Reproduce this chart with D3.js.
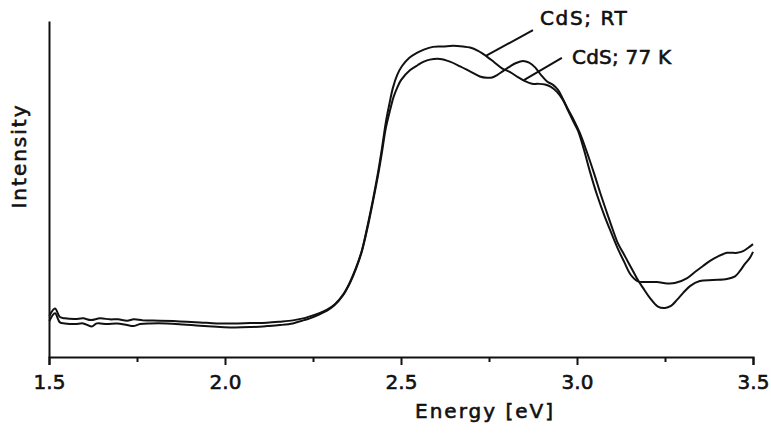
<!DOCTYPE html>
<html>
<head>
<meta charset="utf-8">
<script src="https://cdn.jsdelivr.net/npm/d3@7"></script>
<style>
  body { margin: 0; background: #fff; }
  svg text { font-family: "DejaVu Sans", sans-serif; fill: #111; stroke: #111; stroke-width: 0.6px; }
</style>
</head>
<body>
<svg id="chart" width="771" height="435"></svg>
<script>
// energy in eV, intensity in arbitrary units (0 = axis, 100 = top of y axis)
var rtEnergy = [1.501,1.517,1.531,1.545,1.574,1.597,1.619,1.645,1.673,1.696,1.722,1.741,1.767,1.815,1.872,1.929,1.977,2.023,2.071,2.119,
  2.156,2.193,2.222,2.241,2.264,2.290,2.313,2.335,2.355,2.372,2.389,2.406,2.420,2.435,2.446,2.457,2.467,2.477,2.489,2.503,
  2.523,2.545,2.565,2.591,2.619,2.648,2.676,2.696,2.719,2.744,2.764,2.787,2.810,2.832,2.852,2.872,2.889,2.909,2.926,2.943,
  2.960,2.974,2.989,3.003,3.020,3.037,3.057,3.077,3.094,3.114,3.134,3.153,3.173,3.193,3.227,3.256,3.278,3.313,3.335,3.358,
  3.378,3.398,3.426,3.455,3.472,3.489,3.500];
var rtIntensity = [12.2,14.4,11.9,11.5,11.3,11.5,11.0,11.5,11.2,11.2,10.8,11.2,10.9,10.8,10.6,10.3,10.0,10.0,10.1,10.2,
  10.5,10.9,11.5,12.1,12.9,14.1,15.8,18.5,22.3,26.5,31.8,39.6,46.7,55.1,62.2,69.9,75.3,80.1,83.9,86.6,
  89.0,90.5,91.5,92.3,92.4,92.6,92.4,92.1,91.1,89.4,87.8,85.9,84.8,83.3,82.1,81.3,81.3,81.1,80.4,78.9,
  76.5,73.5,70.2,67.3,61.6,55.1,48.2,42.3,37.8,32.7,28.3,24.4,22.5,22.3,22.3,21.9,22.0,23.5,25.3,27.1,
  28.6,29.8,31.0,31.0,31.5,32.7,33.6];

var lowEnergy = [1.501,1.517,1.531,1.545,1.574,1.597,1.621,1.636,1.665,1.693,1.722,1.739,1.759,1.787,1.835,1.881,1.929,1.977,2.023,2.071,
  2.119,2.156,2.193,2.222,2.241,2.264,2.290,2.310,2.335,2.355,2.372,2.389,2.406,2.420,2.435,2.446,2.457,2.469,2.479,2.489,
  2.500,2.526,2.548,2.565,2.582,2.611,2.639,2.668,2.696,2.724,2.744,2.759,2.773,2.790,2.810,2.827,2.847,2.864,2.881,2.898,
  2.915,2.932,2.946,2.960,2.974,2.991,3.008,3.028,3.048,3.068,3.088,3.102,3.116,3.131,3.145,3.159,3.173,3.188,3.207,3.230,
  3.250,3.267,3.284,3.301,3.321,3.349,3.386,3.426,3.449,3.463,3.477,3.491,3.500];
var lowIntensity = [10.7,13.0,10.3,10.0,9.8,10.0,9.1,10.0,9.8,10.0,9.5,9.2,9.8,10.0,10.0,9.7,9.3,9.0,8.8,8.9,
  9.2,9.5,10.0,10.9,11.5,12.5,13.8,15.3,18.3,22.0,26.2,31.5,39.0,46.1,54.2,61.0,68.2,73.5,77.4,80.1,
  82.4,85.4,86.9,87.9,88.5,88.7,87.9,86.5,85.0,83.5,83.1,83.2,83.9,85.1,86.5,87.5,88.1,87.6,86.2,83.9,
  82.0,81.0,79.5,76.8,73.8,70.5,66.7,61.0,54.8,48.2,42.0,37.8,33.9,31.0,28.3,25.6,22.9,20.5,17.6,15.0,
  14.6,15.2,17.0,19.0,21.1,22.6,22.9,23.2,24.0,25.6,27.7,29.5,31.3];

var majorTicks = [1.5, 2.0, 2.5, 3.0, 3.5];
var minorTicks = [1.75, 2.25, 2.75, 3.25];

// curve labels: text anchor point and the end points of the leader line
var labelNames = ["CdS; RT", "CdS; 77 K"];
var labelAt = [[2.895, 98.8], [2.986, 87.2]];
var leaderFrom = [[2.875, 97.3], [2.957, 89.0]];
var leaderTo = [[2.741, 89.6], [2.849, 82.4]];

var svg = d3.select("#chart");

var xScale = d3.scaleLinear().domain([1.5, 3.5]).range([49, 753]);
var yScale = d3.scaleLinear().domain([0, 100]).range([357, 21]);

var rtData = rtEnergy.map(function(e, i) { return {e: e, v: rtIntensity[i]}; });
var lowData = lowEnergy.map(function(e, i) { return {e: e, v: lowIntensity[i]}; });

var line = d3.line()
  .x(function(d) { return xScale(d.e); })
  .y(function(d) { return yScale(d.v); })
  .curve(d3.curveCatmullRom.alpha(0.5));

[rtData, lowData].forEach(function(data) {
  svg.append("path")
    .datum(data)
    .attr("d", line)
    .style("fill", "none")
    .style("stroke", "#111")
    .style("stroke-width", 2)
    .style("stroke-linejoin", "round");
});

// x axis: major ticks with labels, minor ticks without
svg.append("g")
  .attr("transform", "translate(0,357)")
  .call(d3.axisBottom(xScale).tickValues(majorTicks).tickSize(8).tickPadding(10).tickFormat(d3.format(".1f")))
  .call(function(g) {
    g.select(".domain").attr("stroke", "#111").attr("stroke-width", 2);
    g.selectAll(".tick line").attr("stroke", "#111").attr("stroke-width", 2);
    g.selectAll(".tick text").attr("font-size", 20).attr("font-family", null).attr("fill", "#111");
  });

svg.append("g")
  .attr("transform", "translate(0,357)")
  .call(d3.axisBottom(xScale).tickValues(minorTicks).tickSize(5).tickFormat(""))
  .call(function(g) {
    g.select(".domain").remove();
    g.selectAll(".tick line").attr("stroke", "#111").attr("stroke-width", 2);
  });

// y axis is a bare line
svg.append("g")
  .attr("transform", "translate(49,0)")
  .call(d3.axisLeft(yScale).tickValues([]).tickSizeOuter(0))
  .call(function(g) {
    g.select(".domain").attr("stroke", "#111").attr("stroke-width", 2);
  });

svg.append("text")
  .attr("x", 485)
  .attr("y", 418)
  .attr("text-anchor", "middle")
  .style("font-size", "20px")
  .style("letter-spacing", "2px")
  .text("Energy [eV]");

svg.append("text")
  .attr("transform", "translate(26,156)rotate(-90)")
  .attr("text-anchor", "middle")
  .style("font-size", "20px")
  .style("letter-spacing", "2px")
  .text("Intensity");

labelNames.forEach(function(name, i) {
  svg.append("line")
    .attr("x1", xScale(leaderFrom[i][0]))
    .attr("y1", yScale(leaderFrom[i][1]))
    .attr("x2", xScale(leaderTo[i][0]))
    .attr("y2", yScale(leaderTo[i][1]))
    .style("stroke", "#111")
    .style("stroke-width", 2);
  svg.append("text")
    .attr("x", xScale(labelAt[i][0]))
    .attr("y", yScale(labelAt[i][1]))
    .style("font-size", "20px")
    .style("letter-spacing", i == 0 ? "1.6px" : "0.2px")
    .text(name);
});
</script>
</body>
</html>
